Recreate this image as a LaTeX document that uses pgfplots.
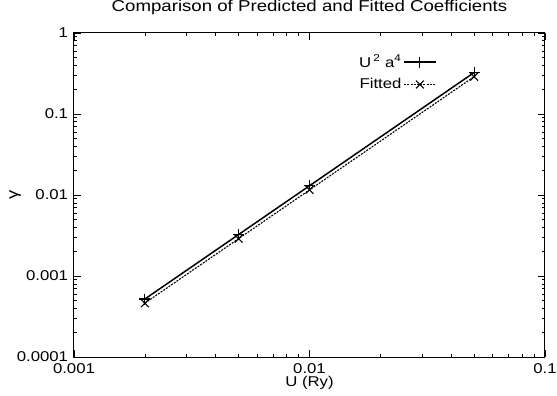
\documentclass[border=0pt]{standalone}
\usepackage{fontspec}
\setmainfont{Liberation Sans}[FakeStretch=1.18]
\usepackage{pgfplots}
\pgfplotsset{compat=1.18}
\begin{document}
\fontsize{14.2}{17}\selectfont
\begin{tikzpicture}
\path[use as bounding box] (-74pt,-39pt) rectangle (483pt,357pt);
\begin{axis}[
  at={(0pt,0pt)}, anchor=south west,
  scale only axis, width=471pt, height=324pt,
  xmode=log, ymode=log,
  xmin=0.001, xmax=0.1, ymin=0.0001, ymax=1,
  xtick={0.001,0.01,0.1}, xticklabels={0.001,0.01,0.1},
  ytick={0.0001,0.001,0.01,0.1,1}, yticklabels={0.0001,0.001,0.01,0.1,1},
  tick align=inside, major tick length=7pt, minor tick length=3.5pt,
  xtick pos=both, ytick pos=both,
  axis line style={line width=1pt},
  every tick/.style={black, line width=0.7pt},
  tick label style={font=\fontsize{14.2}{17}\selectfont},
  xticklabel style={anchor=base, yshift=-16.5pt, inner sep=0pt},
  yticklabel style={xshift=-1pt},
  title={Comparison of Predicted and Fitted Coefficients},
  title style={at={(axis description cs:0.5,1)}, anchor=base, yshift=15pt, inner sep=0pt, font=\fontsize{15.8}{19}\selectfont},
  xlabel={U (Ry)},
  xlabel style={at={(axis description cs:0.5,0)}, anchor=base, yshift=-29.5pt, inner sep=0pt, font=\fontsize{14.2}{17}\selectfont},
  ylabel={γ},
  ylabel style={at={(axis description cs:-0.125,0.5)}, anchor=center, font=\fontsize{15.5}{18}\selectfont},
  legend style={draw=none, fill=none, at={(axis description cs:0.776,0.945)}, anchor=north east,
    font=\fontsize{14.2}{17}\selectfont, row sep=5pt},
  legend cell align=right,
  legend plot pos=right,
  legend image code/.code={\draw[mark repeat=2,mark phase=2] plot coordinates {(0cm,0cm) (0.55cm,0cm) (1.1cm,0cm)};},
]
\addplot[black, line width=1.5pt, mark=+, mark size=5.5pt, mark options={solid, line width=1.1pt}]
  coordinates {(0.002,0.00052) (0.005,0.00325) (0.01,0.013) (0.05,0.325)};
\addlegendentry{U\,\textsuperscript{2} a\textsuperscript{4}}
\addplot[black, line width=1.1pt, dash pattern=on 2pt off 1.2pt, mark=x, mark size=5.5pt, mark options={solid, line width=1.1pt}]
  coordinates {(0.002,0.000462) (0.005,0.00289) (0.01,0.01155) (0.05,0.289)};
\addlegendentry{Fitted}
\end{axis}
\end{tikzpicture}
\end{document}
